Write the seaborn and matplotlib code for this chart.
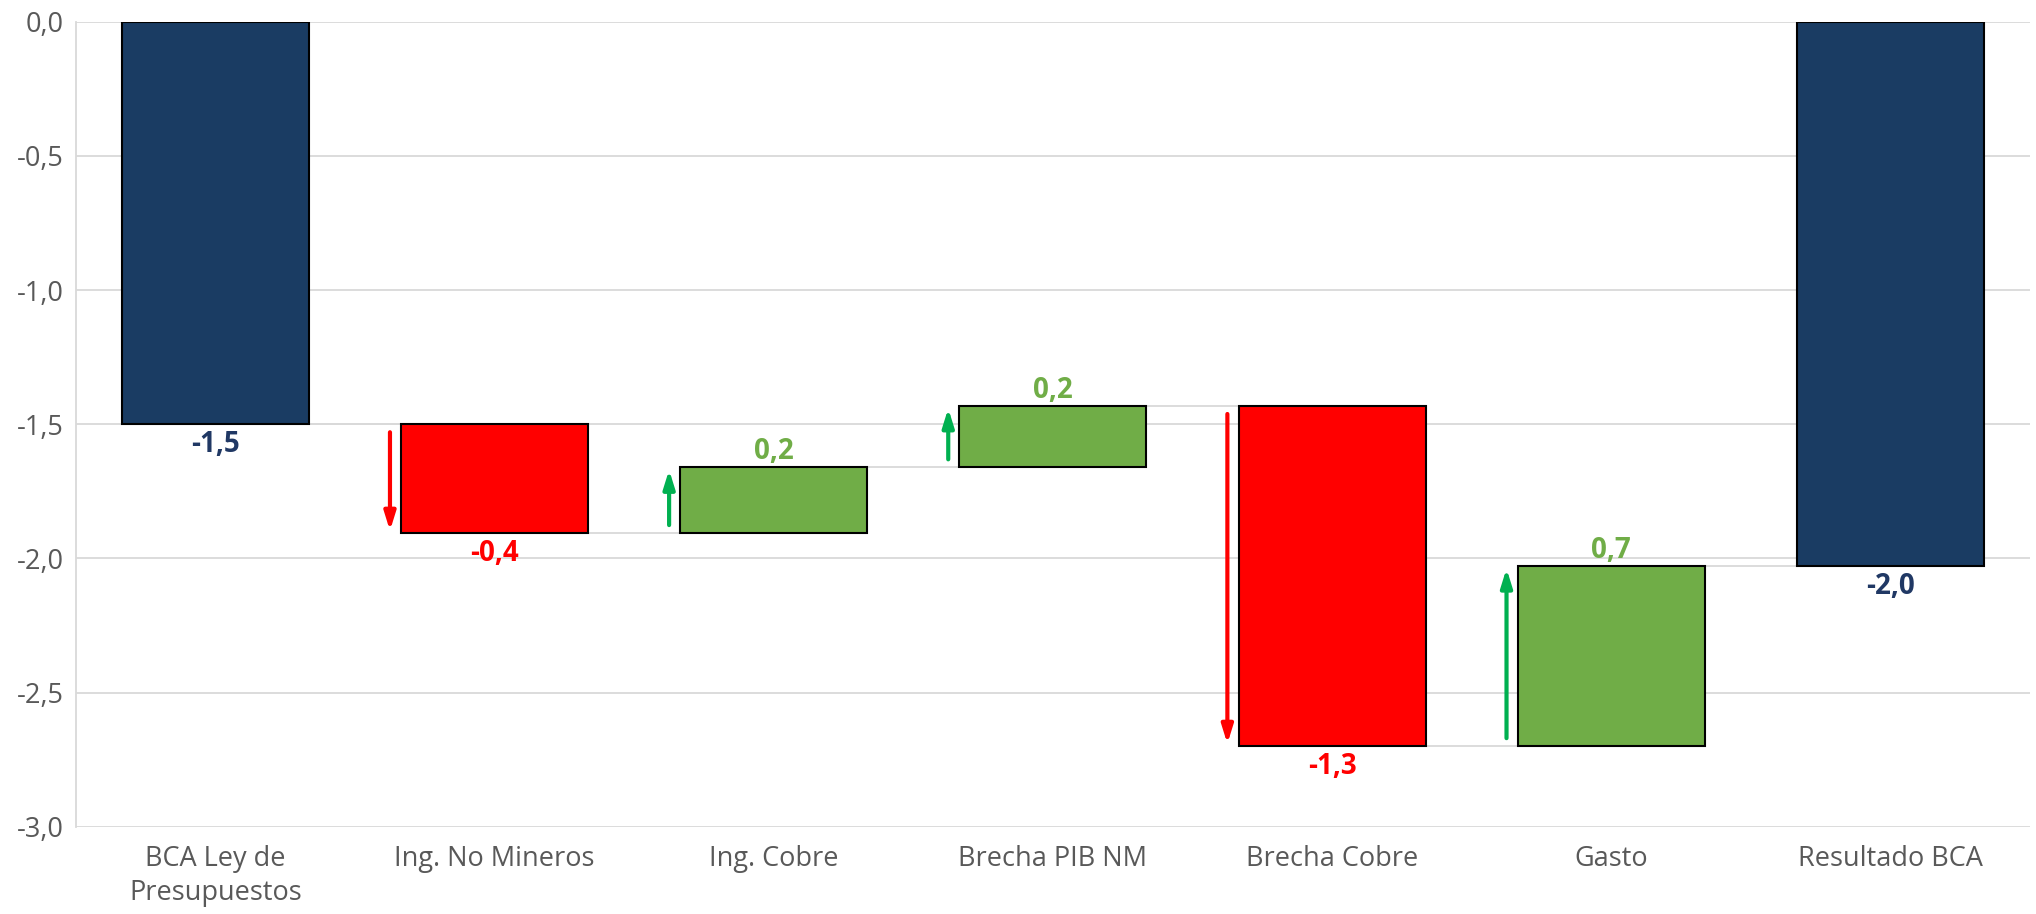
import matplotlib
matplotlib.use("Agg")
import matplotlib.pyplot as plt
import seaborn as sns
import numpy as np

categories = ["BCA Ley de\nPresupuestos", "Ing. No Mineros", "Ing. Cobre",
              "Brecha PIB NM", "Brecha Cobre", "Gasto", "Resultado BCA"]
start_value = -1.5
deltas = [-0.406, 0.245, 0.229, -1.268, 0.671]
yticks = [0.0, -0.5, -1.0, -1.5, -2.0, -2.5, -3.0]

NAVY = "#1A3C63"
NAVY_TXT = "#203864"
RED = "#FF0000"
GREEN = "#70AD47"
ARROW_GREEN = "#00B050"
GRID = "#D9D9D9"
TXT = "#595959"

sns.set_theme(style="white")
plt.rcParams["font.family"] = ["Open Sans", "DejaVu Sans"]

# waterfall geometry from the data
levels = [start_value]
for d in deltas:
    levels.append(levels[-1] + d)
end_value = levels[-1]
bottoms = [0.0] + levels[:-1] + [0.0]
heights = [start_value] + deltas + [end_value]
values = [start_value] + deltas + [end_value]
colors = [NAVY] + [GREEN if d > 0 else RED for d in deltas] + [NAVY]
lab_colors = [NAVY_TXT] + [GREEN if d > 0 else RED for d in deltas] + [NAVY_TXT]

fig = plt.figure(figsize=(20.36, 9.14), dpi=100)
ax = fig.add_axes([0.0373, 0.0955, 0.9597, 0.8808])

width = 0.67
sns.barplot(x=categories, y=heights, bottom=bottoms, color=NAVY, width=width,
            edgecolor="black", linewidth=1.5, ax=ax, zorder=3, saturation=1)
for p, c in zip(ax.patches, colors):
    p.set_facecolor(c)

ax.set_ylim(-3.0, 0.0)
ax.set_xlim(-0.5, len(categories) - 0.5)
ax.set_yticks(yticks)
ax.set_yticklabels([f"{t:.1f}".replace(".", ",") for t in yticks])
for t in yticks:
    ax.axhline(t, color=GRID, lw=1.3, zorder=0)

# connectors
ends = [b + h for b, h in zip(bottoms, heights)]
for i in range(len(categories) - 1):
    lvl = ends[i]
    ax.plot([i + width / 2, i + 1 - width / 2], [lvl, lvl], color=GRID, lw=1.3, zorder=1)

# arrows
for i, d in enumerate(deltas, start=1):
    x = i - width / 2 - 0.04
    y0 = bottoms[i]
    y1 = bottoms[i] + d
    col = ARROW_GREEN if d > 0 else RED
    inset = 0.03 * np.sign(d)
    ax.annotate("", xy=(x, y1 - inset * 0.3), xytext=(x, y0 + inset),
                arrowprops=dict(arrowstyle="-|>,head_width=0.28,head_length=0.9",
                                color=col, lw=3, shrinkA=0, shrinkB=0),
                zorder=4)

# labels
for i, (v, b, h) in enumerate(zip(values, bottoms, heights)):
    txt = f"{v:.1f}".replace(".", ",")
    if v >= 0:
        ax.annotate(txt, xy=(i, b + h), xytext=(0, 1), textcoords="offset points",
                    ha="center", va="bottom", fontsize=20, fontweight="bold",
                    color=lab_colors[i])
    else:
        ax.annotate(txt, xy=(i, b + h), xytext=(0, -4), textcoords="offset points",
                    ha="center", va="top", fontsize=20, fontweight="bold",
                    color=lab_colors[i])

for s in ["top", "right", "bottom"]:
    ax.spines[s].set_visible(False)
ax.spines["left"].set_color(GRID)
ax.spines["left"].set_linewidth(1.3)
ax.tick_params(axis="both", length=0, colors=TXT, labelsize=19.5)
ax.tick_params(axis="y", pad=9)
ax.tick_params(axis="x", pad=13)
for lab in ax.get_xticklabels():
    lab.set_linespacing(1.3)
ax.set_xlabel("")
ax.set_ylabel("")

fig.savefig("out.png", dpi=100)
